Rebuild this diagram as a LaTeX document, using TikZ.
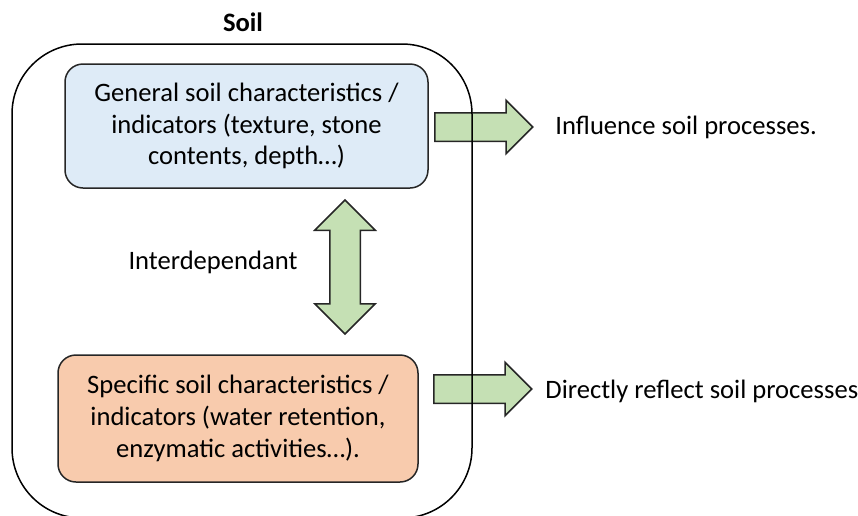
\documentclass[tikz,border=0pt]{standalone}
\usepackage{fontspec}
\setmainfont{Carlito}
\usetikzlibrary{shapes.arrows}

\definecolor{genblue}{HTML}{DEEBF7}
\definecolor{specorange}{HTML}{F8CBAD}
\definecolor{arrowgreen}{HTML}{C5E0B4}

\tikzset{
  indicator/.style={draw=black!85, line width=0.75pt, rounded corners=9pt,
    align=center, inner sep=0pt, font=\fontsize{13.3}{15.8}\selectfont},
  blockarrow/.style={single arrow, draw=black!85, fill=arrowgreen,
    line width=0.75pt, single arrow head extend=6.25pt,
    minimum width=26pt, minimum height=49pt, inner xsep=0pt, inner ysep=6.75pt,
    anchor=west},
  plaintext/.style={inner sep=0pt, font=\fontsize{13.3}{15.8}\selectfont}
}

\begin{document}
\begin{tikzpicture}[x=0.5pt,y=-0.5pt]
\useasboundingbox (0,0) rectangle (858,515);

% indicator boxes
\node[indicator, fill=genblue, minimum width=181.5pt, minimum height=62pt]
  (general) at (246.5,126)
  {General soil characteristics /\\ indicators (texture, stone\\ contents, depth\ldots)};
\node[indicator, fill=specorange, minimum width=180pt, minimum height=63.5pt]
  (specific) at (238,418.5)
  {Specific soil characteristics /\\ indicators (water retention,\\ enzymatic activities\ldots).};

% what they do
\node[plaintext, anchor=west] (influence) at (555,127) {Influence soil processes.};
\node[plaintext, anchor=west] (reflect) at (545,391) {Directly reflect soil processes};
\node[plaintext] (interdep) at (213,262) {Interdependant};

% green arrows
\node[blockarrow] (arrowgen) at (434,127) {};
\node[blockarrow] (arrowspec) at (433,389) {};
\node[double arrow, draw=black!85, fill=arrowgreen, line width=0.75pt,
  rotate=90, double arrow head extend=7.5pt, minimum width=29.5pt,
  minimum height=67pt, inner xsep=0pt, inner ysep=7.25pt] (arrowboth) at (345,267) {};

% soil container
\node[draw, line width=0.75pt, rounded corners=35pt, minimum width=230pt,
  minimum height=237pt, inner sep=0pt] (soilbox) at (242,281) {};
\node[plaintext, font=\fontsize{13.3}{15.8}\selectfont\bfseries] (title) at (243,22) {Soil};
\end{tikzpicture}
\end{document}
